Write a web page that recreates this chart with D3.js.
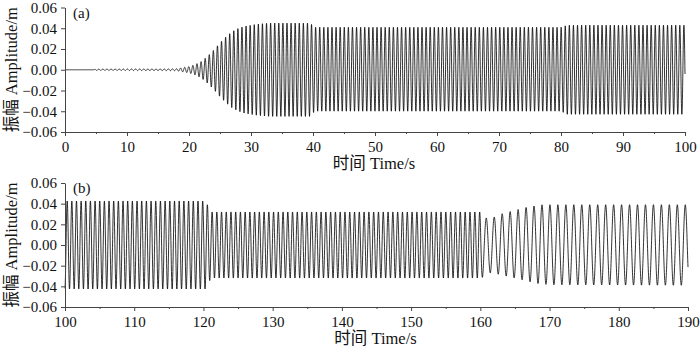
<!DOCTYPE html>
<html lang="en">
<head>
<meta charset="UTF-8">
<title>Amplitude vs time</title>
<script src="https://cdn.jsdelivr.net/npm/d3@7"></script>
<style>
  body { margin: 0; background: #fff; }
  text { font-family: "Liberation Serif", "Noto Sans CJK SC", serif; fill: #111; }
</style>
</head>
<body>
<svg id="chart" width="700" height="352"></svg>
<script>
// ---- data ----
// panel (a): envelope keyframes [time s, amplitude m]
var aUpper = [[0,0],[4.5,0],[5,0.0006],[18,0.0009],[19,0.002],[20,0.003],[21,0.005],[22,0.008],[23,0.013],
  [24,0.019],[25,0.026],[26,0.032],[27,0.037],[28,0.040],[29,0.042],[31,0.044],[33,0.045],[39.5,0.045],
  [40.3,0.041],[80,0.041],[81,0.043],[100,0.043]];
var aLower = [[0,0],[4.5,0],[5,0.0006],[18,0.0009],[19,0.002],[20,0.003],[21,0.005],[22,0.008],[23,0.013],
  [24,0.019],[25,0.026],[26,0.032],[27,0.037],[28,0.040],[29,0.042],[31,0.044],[33,0.045],[39.5,0.045],
  [40.3,0.040],[80,0.040],[81,0.043],[100,0.043]];
var aPeriod = [[0,0.66],[100,0.66]];

// panel (b)
var bUpper = [[100,0.0426],[120.4,0.0426],[120.9,0.032],[160.2,0.032],[160.6,0.026],[162,0.027],[163,0.030],
  [165,0.0336],[167,0.037],[169,0.039],[190,0.039]];
var bLower = [[100,0.0426],[120.6,0.0426],[121,0.032],[160.2,0.032],[161,0.0266],[162.4,0.028],[165,0.032],
  [168,0.037],[170,0.0385],[190,0.039]];
var bPeriod = [[100,0.67],[160,0.70],[160.5,1.15],[190,1.15]];

var yTicks = [-0.06, -0.04, -0.02, 0, 0.02, 0.04, 0.06];
var aXTicks = [0,10,20,30,40,50,60,70,80,90,100];
var bXTicks = [100,110,120,130,140,150,160,170,180,190];

var svg = d3.select("#chart");

function lookup(keys, t) {
  // straight lines between the read keyframes
  var i = d3.bisector(function(d){ return d[0]; }).right(keys, t);
  if (i <= 0) return keys[0][1];
  if (i >= keys.length) return keys[keys.length-1][1];
  var p = keys[i-1], q = keys[i];
  return p[1] + (q[1]-p[1]) * (t-p[0]) / (q[0]-p[0]);
}

function trace(t0, t1, upper, lower, period, phase0) {
  var pts = [], ph = phase0, dt = 0.02;
  for (var t = t0; t <= t1 + 1e-9; t += dt) {
    var s = Math.sin(ph);
    var amp = s >= 0 ? lookup(upper, t) : lookup(lower, t);
    pts.push([t, amp * s]);
    ph += 2 * Math.PI * dt / lookup(period, t);
  }
  return pts;
}

function panel(o) {
  var x = d3.scaleLinear().domain(o.xDomain).range([o.left, o.right]);
  var y = d3.scaleLinear().domain([-0.06, 0.06]).range([o.bottom, o.top]);
  var g = svg.append("g");

  var line = d3.line().x(function(d){ return x(d[0]); }).y(function(d){ return y(d[1]); });
  g.append("path")
    .datum(o.points)
    .attr("d", line)
    .attr("fill", "none")
    .attr("stroke", "#000")
    .attr("stroke-width", 0.8);

  // minor x ticks
  var minor = d3.range(o.xDomain[0] + 5, o.xDomain[1], 10);
  g.append("g")
    .attr("transform", "translate(0," + o.bottom + ")")
    .call(d3.axisBottom(x).tickValues(minor).tickSize(2).tickFormat(""))
    .call(function(s){ s.select(".domain").remove(); });

  var xa = g.append("g")
    .attr("transform", "translate(0," + o.bottom + ")")
    .call(d3.axisBottom(x).tickValues(o.xTicks).tickSize(4).tickSizeOuter(0).tickPadding(5));
  xa.selectAll("text").attr("font-size", 15).attr("font-family", "Liberation Serif");

  var ya = g.append("g")
    .attr("transform", "translate(" + o.left + ",0)")
    .call(d3.axisLeft(y).tickValues(yTicks).tickSize(4).tickSizeOuter(0).tickPadding(4)
      .tickFormat(d3.format(".2f")));
  ya.selectAll("text").attr("font-size", 15).attr("font-family", "Liberation Serif");

  svg.selectAll(".domain, .tick line").attr("stroke", "#444");

  g.append("text")
    .attr("x", o.left + 8).attr("y", o.top + 10)
    .attr("font-size", 15)
    .text(o.tag);

  g.append("text")
    .attr("transform", "translate(17," + ((o.top + o.bottom) / 2) + ") rotate(-90)")
    .attr("text-anchor", "middle")
    .attr("font-size", 16.5)
    .text("振幅 Amplitude/m");

  g.append("text")
    .attr("x", (o.left + o.right) / 2 - 1).attr("y", o.bottom + 37)
    .attr("text-anchor", "middle")
    .attr("font-size", 16.5)
    .text("时间 Time/s");
}

panel({
  xDomain: [0, 100], xTicks: aXTicks, left: 65, right: 685, top: 7.5, bottom: 132, tag: "(a)",
  points: trace(0, 100, aUpper, aLower, aPeriod, 0)
});
panel({
  xDomain: [100, 190], xTicks: bXTicks, left: 65, right: 688, top: 183, bottom: 307, tag: "(b)",
  points: trace(100, 190, bUpper, bLower, bPeriod, -1.4)
});
</script>
</body>
</html>
